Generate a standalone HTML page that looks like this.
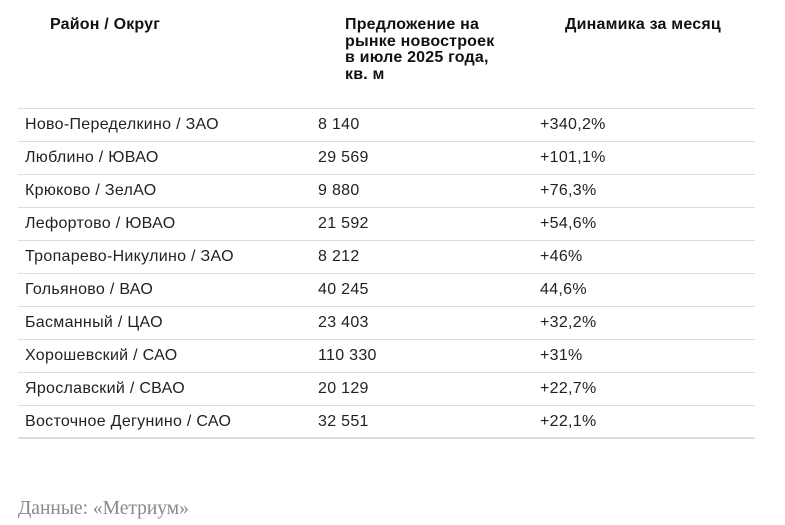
<!DOCTYPE html>
<html><head><meta charset="utf-8">
<style>
body{margin:0;width:785px;height:525px;background:#fff;font-family:"Liberation Sans",sans-serif;color:#222;position:relative;overflow:hidden}
.h{position:absolute;font-weight:bold;font-size:16px;line-height:16.6px;letter-spacing:0.2px;color:#111}
.row{position:absolute;left:18px;width:737px;height:33px;border-top:1px solid #ddd;font-size:16px;letter-spacing:0.3px}
.row span{position:absolute;top:7px}
.bottom{position:absolute;left:18px;width:737px;top:437px;height:2px;background:#ddd}
.foot{position:absolute;left:18px;top:498px;font-family:"Liberation Serif",serif;font-size:19.5px;color:#888}
</style></head><body>
<div class="h" style="left:50px;top:17px">Район / Округ</div>
<div class="h" style="left:345px;top:17px;width:170px">Предложение на<br>рынке новостроек<br>в июле 2025 года,<br>кв. м</div>
<div class="h" style="left:565px;top:17px">Динамика за месяц</div>
<div id="rows"></div>
<div class="bottom"></div>
<div class="foot">Данные: «Метриум»</div>
<script>
const districts=["Ново-Переделкино / ЗАО","Люблино / ЮВАО","Крюково / ЗелАО","Лефортово / ЮВАО","Тропарево-Никулино / ЗАО","Гольяново / ВАО","Басманный / ЦАО","Хорошевский / САО","Ярославский / СВАО","Восточное Дегунино / САО"];
const supply=["8 140","29 569","9 880","21 592","8 212","40 245","23 403","110 330","20 129","32 551"];
const change=["+340,2%","+101,1%","+76,3%","+54,6%","+46%","44,6%","+32,2%","+31%","+22,7%","+22,1%"];
const c=document.getElementById('rows');
districts.forEach((d,i)=>{
 const r=document.createElement('div');r.className='row';r.style.top=(108+i*33)+'px';
 
 
 [[d,7],[supply[i],300],[change[i],522]].forEach(([t,x])=>{const s=document.createElement('span');s.textContent=t;s.style.left=x+'px';
 
 
 r.appendChild(s);});
 c.appendChild(r);
});
</script>
</body></html>
